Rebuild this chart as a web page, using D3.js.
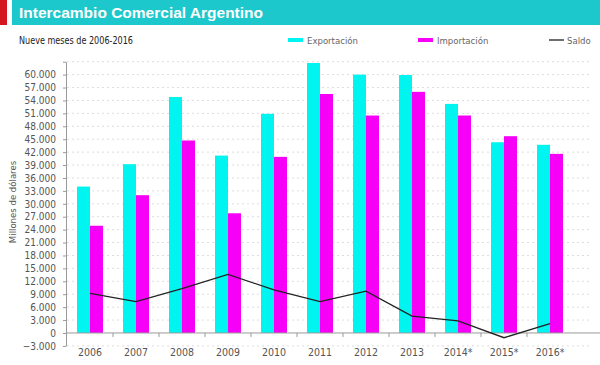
<!DOCTYPE html>
<html>
<head>
<meta charset="utf-8">
<script src="https://cdn.jsdelivr.net/npm/d3@7"></script>
<style>
  body { margin: 0; background: #fff; }
  svg { display: block; font-family: "Liberation Sans", Arial, sans-serif; }
  .narrow { font-family: "DejaVu Sans Condensed", sans-serif; }
</style>
</head>
<body>
<svg width="600" height="365"></svg>
<script>
// Daten (Millionen Dollar)
const years = ["2006", "2007", "2008", "2009", "2010", "2011", "2012", "2013", "2014*", "2015*", "2016*"];
const exportacion = [34000, 39200, 54800, 41200, 50900, 62700, 60000, 59900, 53200, 44300, 43700];
const importacion = [24900, 32000, 44700, 27800, 40900, 55500, 50500, 56000, 50500, 45700, 41600];
const saldo = [9200, 7300, 10300, 13600, 10000, 7300, 9700, 3900, 2800, -1100, 2200];
const yTicks = d3.range(-3000, 60001, 3000);

const width = 600, height = 365;
const svg = d3.select("svg");

// Kopfzeile
svg.append("rect").attr("x", 0).attr("y", 0).attr("width", 7).attr("height", 25).attr("fill", "#d4171f");
svg.append("rect").attr("x", 12).attr("y", 0).attr("width", width - 12).attr("height", 25).attr("fill", "#1cc8cc");
svg.append("text").attr("x", 19).attr("y", 18)
  .attr("fill", "#fff").attr("font-size", 15.5).attr("font-weight", "bold")
  .text("Intercambio Comercial Argentino");
svg.append("text").attr("x", 19).attr("y", 44)
  .attr("class", "narrow")
  .attr("fill", "#222").attr("font-size", 10.5)
  .attr("textLength", 114).attr("lengthAdjust", "spacingAndGlyphs")
  .text("Nueve meses de 2006-2016");

// Skalen
const x = d3.scaleBand().domain(years).range([67, 573]).paddingInner(0.435).paddingOuter(0.2175);
const inner = d3.scaleBand().domain(["exp", "imp"]).range([0, x.bandwidth()]);
const y = d3.scaleLinear().domain([-3000, 63000]).range([345.9, 61.7]);

// Gitterlinien
svg.append("g")
  .selectAll("line")
  .data(yTicks.concat([63000]).filter(d => d !== 0))
  .join("line")
  .attr("x1", 67).attr("x2", 590)
  .attr("y1", d => y(d)).attr("y2", d => y(d))
  .attr("stroke", "#ddd").attr("stroke-width", 1).attr("stroke-dasharray", "2,3");

// Y-Achse
const yAxis = svg.append("g")
  .attr("transform", "translate(66,0)")
  .call(d3.axisLeft(y).tickValues(yTicks.concat([63000])).tickSize(3).tickSizeOuter(0)
    .tickFormat(d => d === 63000 ? "" : (d === 0 ? "0" : d3.format(",")(d).replace(/,/g, "."))));
yAxis.select(".domain").attr("stroke", "#999");
yAxis.selectAll(".tick line").attr("stroke", "#999");
yAxis.selectAll("text").attr("class", "narrow").attr("fill", "#555").attr("font-size", 10).attr("x", -10);

svg.append("text")
  .attr("transform", "translate(16,202) rotate(-90)")
  .attr("class", "narrow")
  .attr("text-anchor", "middle").attr("fill", "#555").attr("font-size", 9.5)
  .text("Millones de dólares");

// Balken
const groups = svg.append("g")
  .selectAll("g")
  .data(years.map((yr, i) => ({ yr, exp: exportacion[i], imp: importacion[i] })))
  .join("g")
  .attr("transform", d => `translate(${x(d.yr)},0)`);

groups.append("rect")
  .attr("x", inner("exp")).attr("width", inner.bandwidth())
  .attr("y", d => y(d.exp)).attr("height", d => y(0) - y(d.exp))
  .attr("fill", "#00f5f0");
groups.append("rect")
  .attr("x", inner("imp")).attr("width", inner.bandwidth())
  .attr("y", d => y(d.imp)).attr("height", d => y(0) - y(d.imp))
  .attr("fill", "#f700f7");

// X-Achse
const xAxis = svg.append("g")
  .attr("transform", `translate(0,${y(0)})`)
  .call(d3.axisBottom(x).tickSize(0).tickSizeOuter(0));
xAxis.select(".domain").attr("stroke", "#999").attr("d", "M67,0H600");
xAxis.selectAll("text").attr("class", "narrow").attr("fill", "#555").attr("font-size", 10.5).attr("dy", "1.9em");

svg.append("g")
  .selectAll("line")
  .data(years.slice(1))
  .join("line")
  .attr("x1", d => x(d) - x.step() * x.paddingInner() / 2)
  .attr("x2", d => x(d) - x.step() * x.paddingInner() / 2)
  .attr("y1", y(0)).attr("y2", y(0) + 4)
  .attr("stroke", "#999");

// Saldo-Linie
const line = d3.line()
  .x((d, i) => x(years[i]) + x.bandwidth() / 2)
  .y(d => y(d));
svg.append("path")
  .datum(saldo)
  .attr("d", line)
  .attr("fill", "none").attr("stroke", "#222").attr("stroke-width", 1.3);

// Legende
const legend = [
  { label: "Exportación", color: "#00f5f0", x: 288, type: "bar" },
  { label: "Importación", color: "#f700f7", x: 418, type: "bar" },
  { label: "Saldo", color: "#333", x: 549, type: "line" }
];
const lg = svg.append("g").selectAll("g").data(legend).join("g")
  .attr("transform", d => `translate(${d.x},40)`);
lg.append("rect")
  .attr("x", 0).attr("width", 15)
  .attr("y", d => d.type === "bar" ? -2 : -0.7)
  .attr("height", d => d.type === "bar" ? 4 : 1.4)
  .attr("fill", d => d.color);
lg.append("text")
  .attr("class", "narrow")
  .attr("x", d => d.type === "bar" ? 19 : 18).attr("y", 3.5)
  .attr("fill", "#666").attr("font-size", 9.5)
  .text(d => d.label);
</script>
</body>
</html>
